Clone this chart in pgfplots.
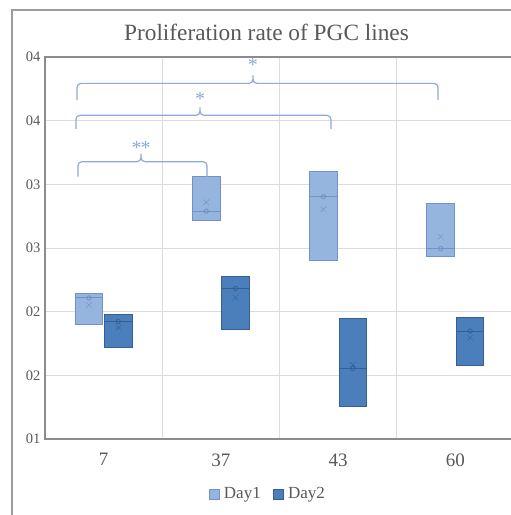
\documentclass[border=0pt]{standalone}
\usepackage{fontspec}
\setmainfont{Liberation Serif}
\usepackage{pgfplots}
\pgfplotsset{compat=1.18}
\usepgfplotslibrary{statistics}

\definecolor{dayone}{RGB}{149,180,222}
\definecolor{dayoneline}{RGB}{112,146,198}
\definecolor{daytwo}{RGB}{74,127,188}
\definecolor{daytwoline}{RGB}{52,96,150}
\definecolor{bracecol}{RGB}{140,170,220}
\definecolor{txtgray}{RGB}{89,89,89}
\definecolor{gridgray}{RGB}{220,220,220}
\definecolor{framegray}{RGB}{140,140,140}

\tikzset{br/.style={draw=bracecol, line width=1.2pt}}
% #1 left x, #2 tip x, #3 right x, #4 line y, #5 end y, #6 stars, #7 baseline offset of the stars
\newcommand\sigbracket[7]{%
  \draw[br, rounded corners=4pt] (axis cs:#1,#5) -- (axis cs:#1,#4) -- ([xshift=-4pt]axis cs:#2,#4);
  \draw[br] ([xshift=-4pt]axis cs:#2,#4) to[out=0,in=-90] ([yshift=4pt]axis cs:#2,#4) -- ([yshift=8pt]axis cs:#2,#4);
  \draw[br] ([xshift=4pt]axis cs:#2,#4) to[out=180,in=-90] ([yshift=4pt]axis cs:#2,#4);
  \draw[br, rounded corners=4pt] ([xshift=4pt]axis cs:#2,#4) -- (axis cs:#3,#4) -- (axis cs:#3,#5);
  \node[text=bracecol, font=\fontsize{20}{22}\selectfont, anchor=base, inner sep=0pt] at ([yshift=#7]axis cs:#2,#4) {#6};
}

\begin{document}
\begin{tikzpicture}[x=1pt,y=1pt]
\useasboundingbox[fill=white] (0,0) rectangle (511,515);
\draw[framegray!85, line width=1.3pt] (12,-5) -- (12,505) -- (520,505);
\node[text=txtgray, font=\fontsize{23.3}{26}\selectfont] at (266.5,483) {Proliferation rate of PGC lines};
\begin{axis}[
  at={(45pt,76pt)}, anchor=south west,
  scale only axis, width=469pt, height=382pt,
  xmin=0.5, xmax=4.5, ymin=1, ymax=4,
  xtick={1,2,3,4}, xticklabels={7,37,43,60},
  minor xtick={1.5,2.5,3.5}, xminorgrids,
  ytick={1,1.5,...,4}, yticklabels={01,02,02,03,03,04,04},
  ymajorgrids,
  grid style={gridgray, line width=0.9pt},
  minor grid style={gridgray, line width=0.9pt},
  major tick length=0pt, minor tick length=0pt,
  axis line style={framegray, line width=1.1pt},
  /pgf/number format/assume math mode=true,
  xticklabel style={text=txtgray, font=\fontsize{19}{22}\selectfont, yshift=-11pt},
  yticklabel style={text=txtgray, font=\fontsize{14.5}{17}\selectfont, xshift=-1pt},
  clip=false,
  legend style={at={(0.4755,-0.144)}, anchor=center, draw=none, fill=none,
    font=\fontsize{17}{20}\selectfont, text=txtgray,
    /tikz/every odd column/.append style={column sep=2pt},
    /tikz/every even column/.append style={column sep=10.5pt}},
  legend columns=2,
  legend image code/.code={\draw[#1] (0pt,-5pt) rectangle (10pt,5pt);},
  boxplot/draw direction=y,
  boxplot/box extend=0.235,
  boxplot/whisker extend=0,
  boxplot/every box/.style={line width=0.9pt},
]
\addlegendimage{fill=dayone, draw=dayoneline, line width=0.8pt}
\addlegendentry{Day1}
\addlegendimage{fill=daytwo, draw=daytwoline, line width=0.8pt}
\addlegendentry{Day2}

% Day1
\addplot[forget plot, fill=dayone, draw=dayoneline,
  boxplot prepared={lower whisker=1.899, lower quartile=1.899, median=2.115,
    upper quartile=2.145, upper whisker=2.145, average=2.053, draw position=0.875},
  boxplot/every average/.style={/tikz/mark=x, /tikz/mark size=4pt, /tikz/mark options={draw=dayoneline, line width=0.9pt}},
  boxplot/every median/.style={draw=dayoneline, line width=0.9pt}] coordinates {};
\addplot[forget plot, fill=dayone, draw=dayoneline,
  boxplot prepared={lower whisker=2.718, lower quartile=2.718, median=2.789,
    upper quartile=3.064, upper whisker=3.064, average=2.859, draw position=1.875},
  boxplot/every average/.style={/tikz/mark=x, /tikz/mark size=4pt, /tikz/mark options={draw=dayoneline, line width=0.9pt}},
  boxplot/every median/.style={draw=dayoneline, line width=0.9pt}] coordinates {};
\addplot[forget plot, fill=dayone, draw=dayoneline,
  boxplot prepared={lower whisker=2.406, lower quartile=2.406, median=2.903,
    upper quartile=3.103, upper whisker=3.103, average=2.804, draw position=2.875},
  boxplot/every average/.style={/tikz/mark=x, /tikz/mark size=4pt, /tikz/mark options={draw=dayoneline, line width=0.9pt}},
  boxplot/every median/.style={draw=dayoneline, line width=0.9pt}] coordinates {};
\addplot[forget plot, fill=dayone, draw=dayoneline,
  boxplot prepared={lower whisker=2.432, lower quartile=2.432, median=2.495,
    upper quartile=2.846, upper whisker=2.846, average=2.589, draw position=3.875},
  boxplot/every average/.style={/tikz/mark=x, /tikz/mark size=4pt, /tikz/mark options={draw=dayoneline, line width=0.9pt}},
  boxplot/every median/.style={draw=dayoneline, line width=0.9pt}] coordinates {};

% Day2
\addplot[forget plot, fill=daytwo, draw=daytwoline,
  boxplot prepared={lower whisker=1.720, lower quartile=1.720, median=1.927,
    upper quartile=1.976, upper whisker=1.976, average=1.874, draw position=1.125},
  boxplot/every average/.style={/tikz/mark=x, /tikz/mark size=4pt, /tikz/mark options={draw=daytwoline, line width=0.9pt}},
  boxplot/every median/.style={draw=daytwoline, line width=0.9pt}] coordinates {};
\addplot[forget plot, fill=daytwo, draw=daytwoline,
  boxplot prepared={lower whisker=1.864, lower quartile=1.864, median=2.182,
    upper quartile=2.280, upper whisker=2.280, average=2.110, draw position=2.125},
  boxplot/every average/.style={/tikz/mark=x, /tikz/mark size=4pt, /tikz/mark options={draw=daytwoline, line width=0.9pt}},
  boxplot/every median/.style={draw=daytwoline, line width=0.9pt}] coordinates {};
\addplot[forget plot, fill=daytwo, draw=daytwoline,
  boxplot prepared={lower whisker=1.254, lower quartile=1.254, median=1.555,
    upper quartile=1.948, upper whisker=1.948, average=1.581, draw position=3.125},
  boxplot/every average/.style={/tikz/mark=x, /tikz/mark size=4pt, /tikz/mark options={draw=daytwoline, line width=0.9pt}},
  boxplot/every median/.style={draw=daytwoline, line width=0.9pt}] coordinates {};
\addplot[forget plot, fill=daytwo, draw=daytwoline,
  boxplot prepared={lower whisker=1.579, lower quartile=1.579, median=1.848,
    upper quartile=1.953, upper whisker=1.953, average=1.796, draw position=4.125},
  boxplot/every average/.style={/tikz/mark=x, /tikz/mark size=4pt, /tikz/mark options={draw=daytwoline, line width=0.9pt}},
  boxplot/every median/.style={draw=daytwoline, line width=0.9pt}] coordinates {};

% inner points on the medians
\addplot[forget plot, only marks, mark=o, mark size=2.2pt, mark options={draw=dayoneline, fill=dayone, line width=0.8pt}]
  coordinates {(0.875,2.108) (1.875,2.789) (2.875,2.903) (3.875,2.495)};
\addplot[forget plot, only marks, mark=o, mark size=2.2pt, mark options={draw=daytwoline, fill=daytwo, line width=0.8pt}]
  coordinates {(1.125,1.922) (2.125,2.182) (3.125,1.555) (4.125,1.848)};

% significance brackets
\sigbracket{0.781}{1.319}{1.882}{3.178}{3.060}{*\kern-1pt*}{7pt}
\sigbracket{0.764}{1.822}{2.939}{3.542}{3.435}{*}{10pt}
\sigbracket{0.773}{2.274}{3.852}{3.793}{3.662}{*}{11.5pt}
\end{axis}
\end{tikzpicture}
\end{document}
